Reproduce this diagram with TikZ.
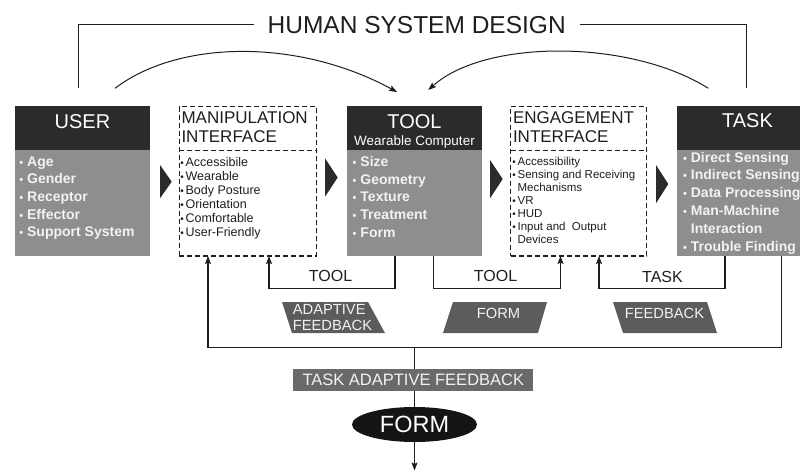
\documentclass[tikz,border=0pt]{standalone}
\usepackage{fontspec}
\setmainfont{Liberation Sans}
\usetikzlibrary{arrows.meta,shapes.geometric}
\definecolor{hdrc}{HTML}{2B2B2B}
\definecolor{bodc}{HTML}{8E8E8E}
\definecolor{parac}{HTML}{5C5C5C}
\definecolor{tafc}{HTML}{6A6A6A}
\definecolor{itc}{HTML}{F2F2F2}
\definecolor{txc}{HTML}{1E1E1E}
\newcommand\bu{{\fontsize{11}{11}\selectfont•}\hspace{4pt}}
\newcommand\bs{{\fontsize{10}{10}\selectfont•}\hspace{1.8pt}}
\begin{document}
\begin{tikzpicture}[x=1pt,y=-1pt,
 every node/.style={inner sep=0pt, outer sep=0pt},
 hdr/.style={fill=hdrc, anchor=north west},
 bod/.style={fill=bodc, anchor=north west},
 dbox/.style={draw=txc, line width=1.2pt, dash pattern=on 5pt off 3pt, anchor=north west},
 dline/.style={draw=txc, line width=1.2pt, dash pattern=on 5pt off 3pt},
 htext/.style={text=white, font=\fontsize{20}{24}\selectfont, anchor=base},
 ttl/.style={text=txc, font=\fontsize{17}{19}\selectfont, align=left, anchor=north west},
 itb/.style={text=itc, font=\fontsize{14}{17.6}\selectfont\bfseries, align=left, anchor=north west},
 itr/.style={text=txc, font=\fontsize{12.5}{13.9}\selectfont, align=left, anchor=north west},
 ite/.style={text=txc, font=\fontsize{11.5}{13}\selectfont, align=left, anchor=north west},
 conn/.style={draw=txc, line width=1.1pt},
 arr/.style={conn, -{Stealth[length=8pt,width=6pt,inset=1.5pt]}},
 lab/.style={text=txc, font=\fontsize{16}{16}\selectfont, anchor=base},
 chev/.style={fill=hdrc},
 para/.style={fill=parac},
 ptext/.style={text=itc, font=\fontsize{14.7}{16}\selectfont, align=left},
]
\useasboundingbox (0,0) rectangle (800,471);
\clip (0,0) rectangle (800,471);

% title
\node[text=txc, font=\fontsize{24.5}{26}\selectfont, anchor=base, inner xsep=14pt] (hsd) at (416.7,33.3) {HUMAN SYSTEM DESIGN};
\coordinate (ul) at (78.3,88.3);
\coordinate (ur) at (746.7,88.3);
\draw[conn] (hsd.west) -| (ul);
\draw[conn] (hsd.east) -| (ur);

% USER
\node[hdr, minimum width=135pt, minimum height=44pt] (userh) at (15,106) {};
\node[bod, minimum width=135pt, minimum height=106pt] (userb) at (15,150) {};
\node[htext] (usert) at (82.5,128.5) {USER};
\node[itb] (useri) at (19.3,156.6) {\bu Age\\\bu Gender\\\bu Receptor\\\bu Effector\\\bu Support System};

% MANIPULATION
\node[dbox, minimum width=137.4pt, minimum height=149.3pt] (manip) at (179.3,106.7) {};
\coordinate (dv1) at (0,150.5);
\draw[dline] (manip.west |- dv1) -- (manip.east |- dv1);
\node[ttl] (manipt) at (181.5,112) {MANIPULATION\\INTERFACE};
\node[itr] (manipi) at (180.3,157.5) {\bs Accessibile\\\bs Wearable\\\bs Body Posture\\\bs Orientation\\\bs Comfortable\\\bs User-Friendly};

% TOOL
\node[hdr, minimum width=135pt, minimum height=44pt] (toolh) at (346.7,106) {};
\node[bod, minimum width=135pt, minimum height=106pt] (toolb) at (346.7,150) {};
\node[htext] (toolt) at (414.5,128.3) {TOOL};
\node[text=white, font=\fontsize{13.5}{15}\selectfont, anchor=base] (toolw) at (414.5,145.5) {Wearable Computer};
\node[itb] (tooli) at (352.6,156.6) {\bu Size\\\bu Geometry\\\bu Texture\\\bu Treatment\\\bu Form};

% ENGAGEMENT
\node[dbox, minimum width=136pt, minimum height=149.3pt] (eng) at (510.7,106.7) {};
\draw[dline] (eng.west |- dv1) -- (eng.east |- dv1);
\node[ttl] (engt) at (513,112) {ENGAGEMENT\\INTERFACE};
\node[ite] (engi) at (512.3,156.8) {\bs Accessibility\\\bs Sensing and Receiving\\\hphantom{\bs}Mechanisms\\\bs VR\\\bs HUD\\\bs Input and~ Output\\\hphantom{\bs}Devices};

% TASK
\node[hdr, minimum width=140pt, minimum height=44pt] (taskh) at (677.3,106) {};
\node[bod, minimum width=140pt, minimum height=106pt] (taskb) at (677.3,150) {};
\node[htext] (taskt) at (747.5,127.8) {TASK};
\node[itb, font=\fontsize{14}{17.8}\selectfont\bfseries] (taski) at (683,152) {\bu Direct Sensing\\\bu Indirect Sensing\\\bu Data Processing\\\bu Man-Machine\\\hphantom{\bu}Interaction\\\bu Trouble Finding};

% chevrons
\fill[chev] (160,165) -- (171.7,181.7) -- (160,198.3) -- cycle;
\fill[chev] (325,158.3) -- (337.7,177.5) -- (325,196.7) -- cycle;
\fill[chev] (490,160) -- (502.7,179) -- (490,198.3) -- cycle;
\fill[chev] (656,165) -- (668.3,184) -- (656,203.3) -- cycle;

% top arcs
\coordinate (a1s) at (115,88.3);
\coordinate (a1e) at (397,92);
\coordinate (a2s) at (708.3,88.3);
\coordinate (a2e) at (428.3,90);
\draw[arr, line width=1pt] (a1s) .. controls (180,39) and (300,39) .. (a1e);
\draw[arr, line width=1pt] (a2s) .. controls (630,39) and (485,39) .. (a2e);

% bottom connectors
\coordinate (x1) at (395,0);
\coordinate (x2) at (269,0);
\coordinate (x3) at (433.3,0);
\coordinate (x4) at (560.5,0);
\coordinate (x5) at (725,0);
\coordinate (x6) at (599,0);
\coordinate (x7) at (781.7,0);
\coordinate (x8) at (208,0);
\coordinate (x9) at (414.5,0);
\coordinate (y1) at (0,288.5);
\coordinate (y2) at (0,347.3);

\draw[arr] (toolb.south -| x1) -- (y1 -| x1) -- (y1 -| x2) -- (manip.south -| x2);
\draw[arr] (toolb.south -| x3) -- (y1 -| x3) -- (y1 -| x4) -- (eng.south -| x4);
\draw[arr] (taskb.south -| x5) -- (y1 -| x5) -- (y1 -| x6) -- (eng.south -| x6);
\draw[arr] (taskb.south -| x7) -- (y2 -| x7) -- (y2 -| x8) -- (manip.south -| x8);

\node[lab] (l1) at (330.5,281.7) {TOOL};
\node[lab] (l2) at (495.5,281.7) {TOOL};
\node[lab] (l3) at (662.5,282.3) {TASK};

% parallelograms
\fill[para] (282,302) -- (368,302) -- (385,333) -- (292,333) -- cycle;
\fill[para] (453,302) -- (547,302) -- (538,333) -- (443,333) -- cycle;
\fill[para] (613,302) -- (707,302) -- (717,333) -- (623,333) -- cycle;
\node[ptext] (p1) at (332.5,317.8) {ADAPTIVE\\FEEDBACK};
\node[ptext] (p2) at (498.5,313.8) {FORM};
\node[ptext] (p3) at (664.5,313.3) {FEEDBACK};

% bottom
\node[fill=tafc, minimum width=240pt, minimum height=21.7pt, text=itc, font=\fontsize{16.5}{18}\selectfont] (taf) at (413.3,380.2) {TASK ADAPTIVE FEEDBACK};
\node[ellipse, fill=black!92, minimum width=125pt, minimum height=35pt, text=white, font=\fontsize{23.5}{25}\selectfont] (form) at (414.5,424.5) {FORM};
\coordinate (endc) at (414.5,470.5);
\draw[conn] (y2 -| x9) -- (taf.north -| x9);
\draw[conn] (taf.south -| x9) -- (form.north);
\draw[arr] (form.south) -- (endc);
\end{tikzpicture}
\end{document}
